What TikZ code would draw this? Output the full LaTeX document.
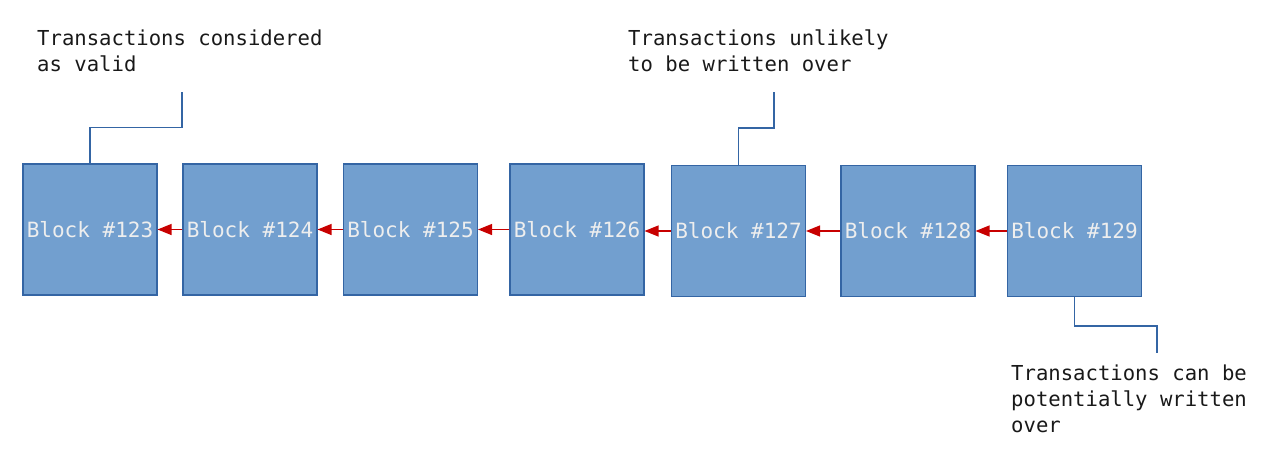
\documentclass[tikz,border=0pt]{standalone}
\usepackage{fontspec}
\setmonofont{DejaVu Sans Mono}
\usetikzlibrary{arrows.meta}
\definecolor{blockfill}{RGB}{114,159,207}
\definecolor{blockedge}{RGB}{52,101,164}
\definecolor{arrowred}{RGB}{200,0,0}
\definecolor{blocktext}{RGB}{238,238,238}
\tikzset{
  block/.style={draw=blockedge, line width=1.1pt, fill=blockfill, minimum width=134pt, minimum height=131pt,
    inner sep=0pt, text=blocktext, font=\fontsize{21}{26}\ttfamily},
  link/.style={draw=arrowred, line width=1.3pt, -{Triangle[length=14pt,width=11pt]}},
  callout/.style={draw=blockedge, line width=1.3pt},
  note/.style={align=left, inner sep=0pt, anchor=base west, text=black!90, font=\fontsize{20.6}{26}\selectfont\ttfamily}
}
\begin{document}
\begin{tikzpicture}[x=1pt,y=-1pt]
\useasboundingbox (0,0) rectangle (1287,455);
\node[block] (b123) at (90,229.5) {Block \#123};
\node[block] (b124) at (250,229.5) {Block \#124};
\node[block] (b125) at (410.5,229.5) {Block \#125};
\node[block] (b126) at (577,229.5) {Block \#126};
\node[block] (b127) at (738.5,231) {Block \#127};
\node[block] (b128) at (908,231) {Block \#128};
\node[block] (b129) at (1074.5,231) {Block \#129};

\draw[link] (b124.west) -- (b123.east);
\draw[link] (b125.west) -- (b124.east);
\draw[link] (b126.west) -- (b125.east);
\draw[link] (b127.west) -- (b126.east |- b127.west);
\draw[link] (b128.west) -- (b127.east);
\draw[link] (b129.west) -- (b128.east);

\coordinate (c1) at (182,92);
\coordinate (c2) at (774,92);
\coordinate (c3) at (1157,353);
\draw[callout] (b123.north) -- ++(0,-36) -| (c1);
\draw[callout] (b127.north) -- ++(0,-37) -| (c2);
\draw[callout] (b129.south) -- ++(0,29) -| (c3);

\node[note] (n1) at (37,71) {Transactions considered\\as valid};
\node[note] (n2) at (628,71) {Transactions unlikely\\to be written over};
\node[note] (n3) at (1011,432) {Transactions can be\\potentially written\\over};
\end{tikzpicture}
\end{document}
